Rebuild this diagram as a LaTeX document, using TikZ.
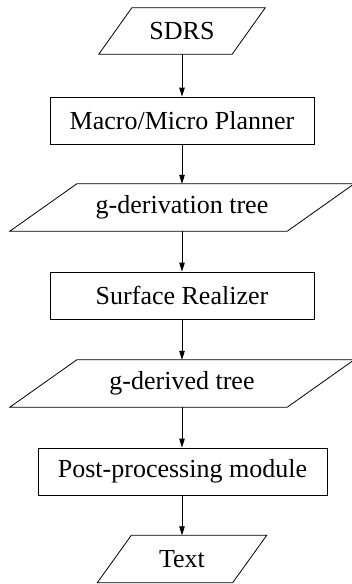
\documentclass[tikz,border=0pt]{standalone}
\usepackage{fontspec}
\setmainfont{Liberation Serif}
\usetikzlibrary{arrows.meta}
\tikzset{
  lbl/.style={font=\fontsize{26}{30}\selectfont, inner sep=0pt, minimum height=47pt, anchor=center},
  boxnode/.style={lbl, draw, line width=0.8pt},
  paranode/.style={lbl},
  para/.style={line width=0.8pt, line join=miter},
  flow/.style={line width=0.8pt, -{Triangle[length=9pt,width=5.5pt]}},
}
\begin{document}
\begin{tikzpicture}[x=1pt,y=-1pt]
\useasboundingbox (0,0) rectangle (351,584);
\node[paranode, minimum width=133pt, minimum height=46pt] (sdrs) at (182,31) {SDRS};
\node[boxnode, minimum width=264pt] (macro) at (182,120.5) {Macro/Micro Planner};
\node[paranode, minimum width=277pt] (gderiv) at (182,207.5) {g-derivation tree};
\node[boxnode, minimum width=264pt] (surface) at (182,295.5) {Surface Realizer};
\node[paranode, minimum width=277pt] (gderived) at (182,383.5) {g-derived tree};
\node[boxnode, minimum width=289pt] (post) at (182.5,471.5) {Post-processing module};
\node[paranode, minimum width=135pt] (text) at (182,559) {Text};
% parallelograms
\draw[para] ([xshift=16.5pt]sdrs.north west) -- ([xshift=16.5pt]sdrs.north east) -- ([xshift=-16.5pt]sdrs.south east) -- ([xshift=-16.5pt]sdrs.south west) -- cycle;
\draw[para] ([xshift=33.5pt]gderiv.north west) -- ([xshift=33.5pt]gderiv.north east) -- ([xshift=-33.5pt]gderiv.south east) -- ([xshift=-33.5pt]gderiv.south west) -- cycle;
\draw[para] ([xshift=33.5pt]gderived.north west) -- ([xshift=33.5pt]gderived.north east) -- ([xshift=-33.5pt]gderived.south east) -- ([xshift=-33.5pt]gderived.south west) -- cycle;
\draw[para] ([xshift=17pt]text.north west) -- ([xshift=17pt]text.north east) -- ([xshift=-17pt]text.south east) -- ([xshift=-17pt]text.south west) -- cycle;
% connectors
\draw[flow] (sdrs) -- (macro);
\draw[flow] (macro) -- (gderiv);
\draw[flow] (gderiv) -- (surface);
\draw[flow] (surface) -- (gderived);
\draw[flow] (gderived.south) -- (gderived.south |- post.north);
\draw[flow] (post.south -| text.north) -- (text);
\end{tikzpicture}
\end{document}
